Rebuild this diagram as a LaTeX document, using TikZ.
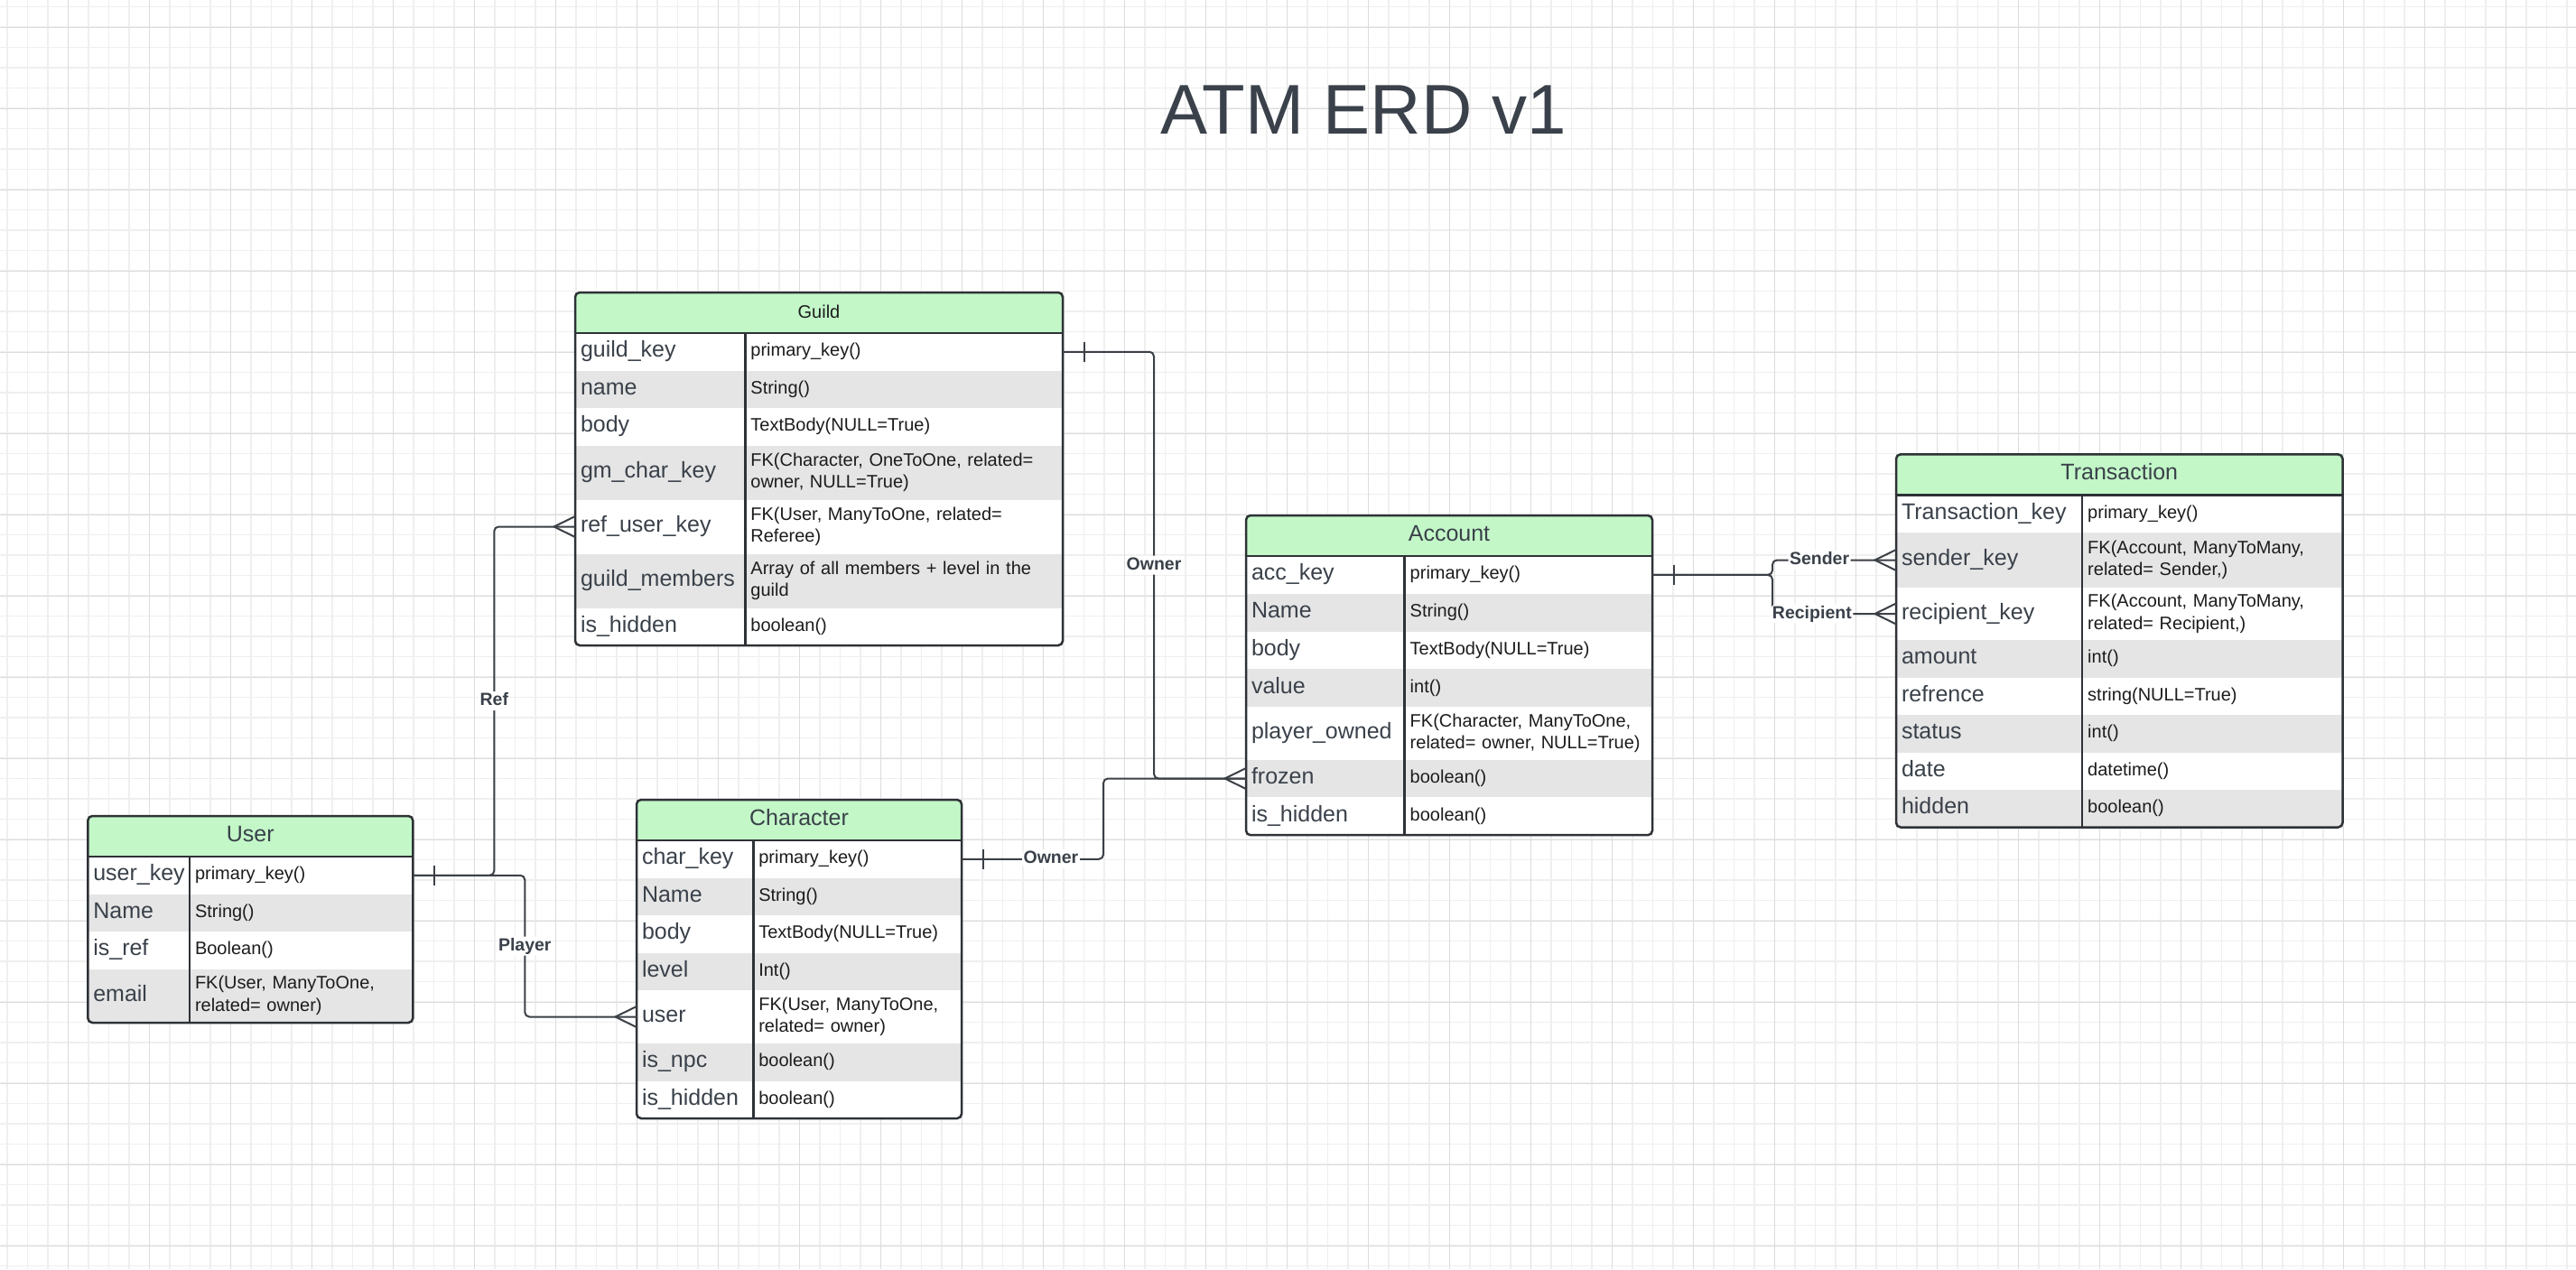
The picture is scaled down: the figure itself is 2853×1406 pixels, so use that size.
\documentclass[tikz,border=0pt]{standalone}
\usepackage{fontspec}
\setmainfont{Liberation Sans}
\usetikzlibrary{calc,positioning}

\definecolor{erdgreen}{HTML}{C3F7C8}
\definecolor{erdgrey}{HTML}{E5E5E5}
\definecolor{erdtext}{HTML}{3A414A}
\definecolor{erdink}{HTML}{1C1C1C}
\definecolor{erdedge}{HTML}{2E3236}
\definecolor{erdwirec}{HTML}{3B4046}
\definecolor{gridminor}{HTML}{EFEFEF}
\definecolor{gridmajor}{HTML}{DCDCDC}

\newcommand{\keyfont}{\fontsize{25}{30}\selectfont}
\newcommand{\valfont}{\fontsize{20}{24.5}\selectfont}
\newcommand{\labfont}{\fontsize{19.5}{23}\selectfont\bfseries}
\newcommand{\erdtitlefont}{\fontsize{78}{90}\selectfont}

\tikzset{
  gridfine/.style={draw=gridminor, line width=1.5pt},
  gridbold/.style={draw=gridmajor, line width=1pt},
  erdhead/.style={anchor=north west, fill=erdgreen, inner sep=0pt, outer sep=0pt, minimum height=45pt, font=\keyfont, text=erdtext},
  erdcell/.style={anchor=north west, inner xsep=6pt, inner ysep=0pt, outer sep=0pt, align=left},
  erdkey/.style={erdcell, font=\keyfont, text=erdtext},
  erdval/.style={erdcell, font=\valfont, text=erdink},
  erdrow1/.style={fill=white},
  erdrow0/.style={fill=erdgrey},
  erdbox/.style={draw=erdedge, line width=2.5pt},
  erdconn/.style={draw=erdwirec, line width=2pt, rounded corners=5pt},
  erdlabel/.style={fill=white, font=\labfont, text=erdtext, inner sep=1.5pt, text height=14pt, text depth=4pt}
}

\newcommand{\erdtable}[6]{%
  \pgfmathsetmacro\erdkw{#4-12}
  \pgfmathsetmacro\erdvw{#5-12}
  \node[erdhead, minimum width=#4+#5] (#1-k0) at (#2) {\strut#3};
  \foreach \rh/\rk/\rv [count=\i] in {#6} {
    \pgfmathtruncatemacro\erdprev{\i-1}
    \pgfmathtruncatemacro\erdodd{mod(\i,2)}
    \node[erdkey, erdrow\erdodd, minimum height=\rh, text width=\erdkw pt] (#1-k\i) at (#1-k\erdprev.south west) {\strut\rk\strut};
    \node[erdval, erdrow\erdodd, minimum height=\rh, text width=\erdvw pt, right=0pt of #1-k\i] (#1-v\i) {\strut\rv\strut};
    \xdef\erdlast{\i}
  }
  \draw[erdbox] (#1-k0.south west) -- (#1-k0.south east);
  \draw[erdbox] (#1-k1.north east) -- (#1-k\erdlast.south east);
  \draw[erdbox, rounded corners=5pt] (#1-k0.north west) rectangle (#1-v\erdlast.south east);
}

\newcommand{\onemark}[1]{\draw[erdconn] ($(#1)+(24,-11)$) -- ($(#1)+(24,11)$);}
\newcommand{\manymark}[1]{\draw[erdconn, sharp corners] ($(#1)+(0,-11.5)$) -- ($(#1)+(-23.5,0)$) -- ($(#1)+(0,11.5)$);}

\begin{document}
\begin{tikzpicture}[x=1pt,y=-1pt]
\useasboundingbox (0,0) rectangle (2853,1406);
\fill[white] (0,0) rectangle (2853,1406);

\foreach \gx in {8,30.5,...,2853} \draw[gridfine] (\gx,0) -- (\gx,1406);
\foreach \gy in {7.5,30,...,1406} \draw[gridfine] (0,\gy) -- (2853,\gy);
\foreach \gx in {75.5,165.5,...,2853} \draw[gridbold] (\gx,0) -- (\gx,1406);
\foreach \gy in {30,120,...,1406} \draw[gridbold] (0,\gy) -- (2853,\gy);

\node[font=\erdtitlefont, text=erdtext, anchor=base west, inner sep=0pt] (title) at (1285,148) {ATM ERD v1};

\erdtable{guild}{637,324}{\valfont\color{erdink}Guild}{188.4}{351.6}{
  41.5/guild\_key/primary\_key(),
  41.5/name/String(),
  41.5/body/TextBody(NULL=True),
  60/gm\_char\_key/{FK(Character, OneToOne, related=\\owner, NULL=True)},
  60/ref\_user\_key/{FK(User, ManyToOne, related=\\Referee)},
  60/guild\_members/{Array of all members + level in the\\guild},
  41.5/is\_hidden/boolean()}

\erdtable{user}{97.3,904}{User}{112.7}{247.3}{
  41.5/user\_key/primary\_key(),
  41.5/Name/String(),
  41.5/is\_ref/Boolean(),
  59.5/email/{FK(User, ManyToOne,\\related= owner)}}

\erdtable{char}{705,886}{Character}{129.3}{230.7}{
  41.5/char\_key/primary\_key(),
  41.5/Name/String(),
  41.5/body/TextBody(NULL=True),
  41.5/level/Int(),
  59/user/{FK(User, ManyToOne,\\related= owner)},
  41.5/is\_npc/boolean(),
  41.5/is\_hidden/boolean()}

\erdtable{acc}{1380,571}{Account}{175.7}{274.3}{
  41.8/acc\_key/primary\_key(),
  41.8/Name/String(),
  41.8/body/TextBody(NULL=True),
  41.8/value/int(),
  58.4/player\_owned/{FK(Character, ManyToOne,\\related= owner, NULL=True)},
  41.8/frozen/boolean(),
  41.8/is\_hidden/boolean()}

\erdtable{trans}{2100,503.3}{Transaction}{206.2}{288.3}{
  41.7/Transaction\_key/primary\_key(),
  61/sender\_key/{FK(Account, ManyToMany,\\related= Sender,)},
  58/recipient\_key/{FK(Account, ManyToMany,\\related= Recipient,)},
  41.5/amount/int(),
  41.5/refrence/string(NULL=True),
  41.5/status/int(),
  41.5/date/datetime(),
  41.5/hidden/boolean()}

\draw[erdconn] (user-v1.east) -- ++(90,0) |- node[erdlabel, pos=0.25] (reflab) {Ref} (guild-k5.west);
\draw[erdconn] (user-v1.east) -- ++(124,0) |- node[erdlabel, pos=0.25] (playerlab) {Player} (char-k5.west);
\draw[erdconn] (guild-v1.east) -- ++(101,0) |- node[erdlabel, pos=0.25] (guildownerlab) {Owner} (acc-k6.west);
\draw[erdconn] (char-v1.east) -- node[erdlabel, pos=0.63] (charownerlab) {Owner} ++(157,0) |- (acc-k6.west);
\draw[erdconn] (acc-v1.east) -- ++(133,0) |- node[erdlabel, pos=0.69] (senderlab) {Sender} (trans-k2.west);
\draw[erdconn] (acc-v1.east) -- ++(133,0) |- node[erdlabel, pos=0.66] (recipientlab) {Recipient} (trans-k3.west);

\onemark{user-v1.east}
\onemark{guild-v1.east}
\onemark{char-v1.east}
\onemark{acc-v1.east}

\manymark{guild-k5.west}
\manymark{char-k5.west}
\manymark{acc-k6.west}
\manymark{trans-k2.west}
\manymark{trans-k3.west}

\end{tikzpicture}
\end{document}
